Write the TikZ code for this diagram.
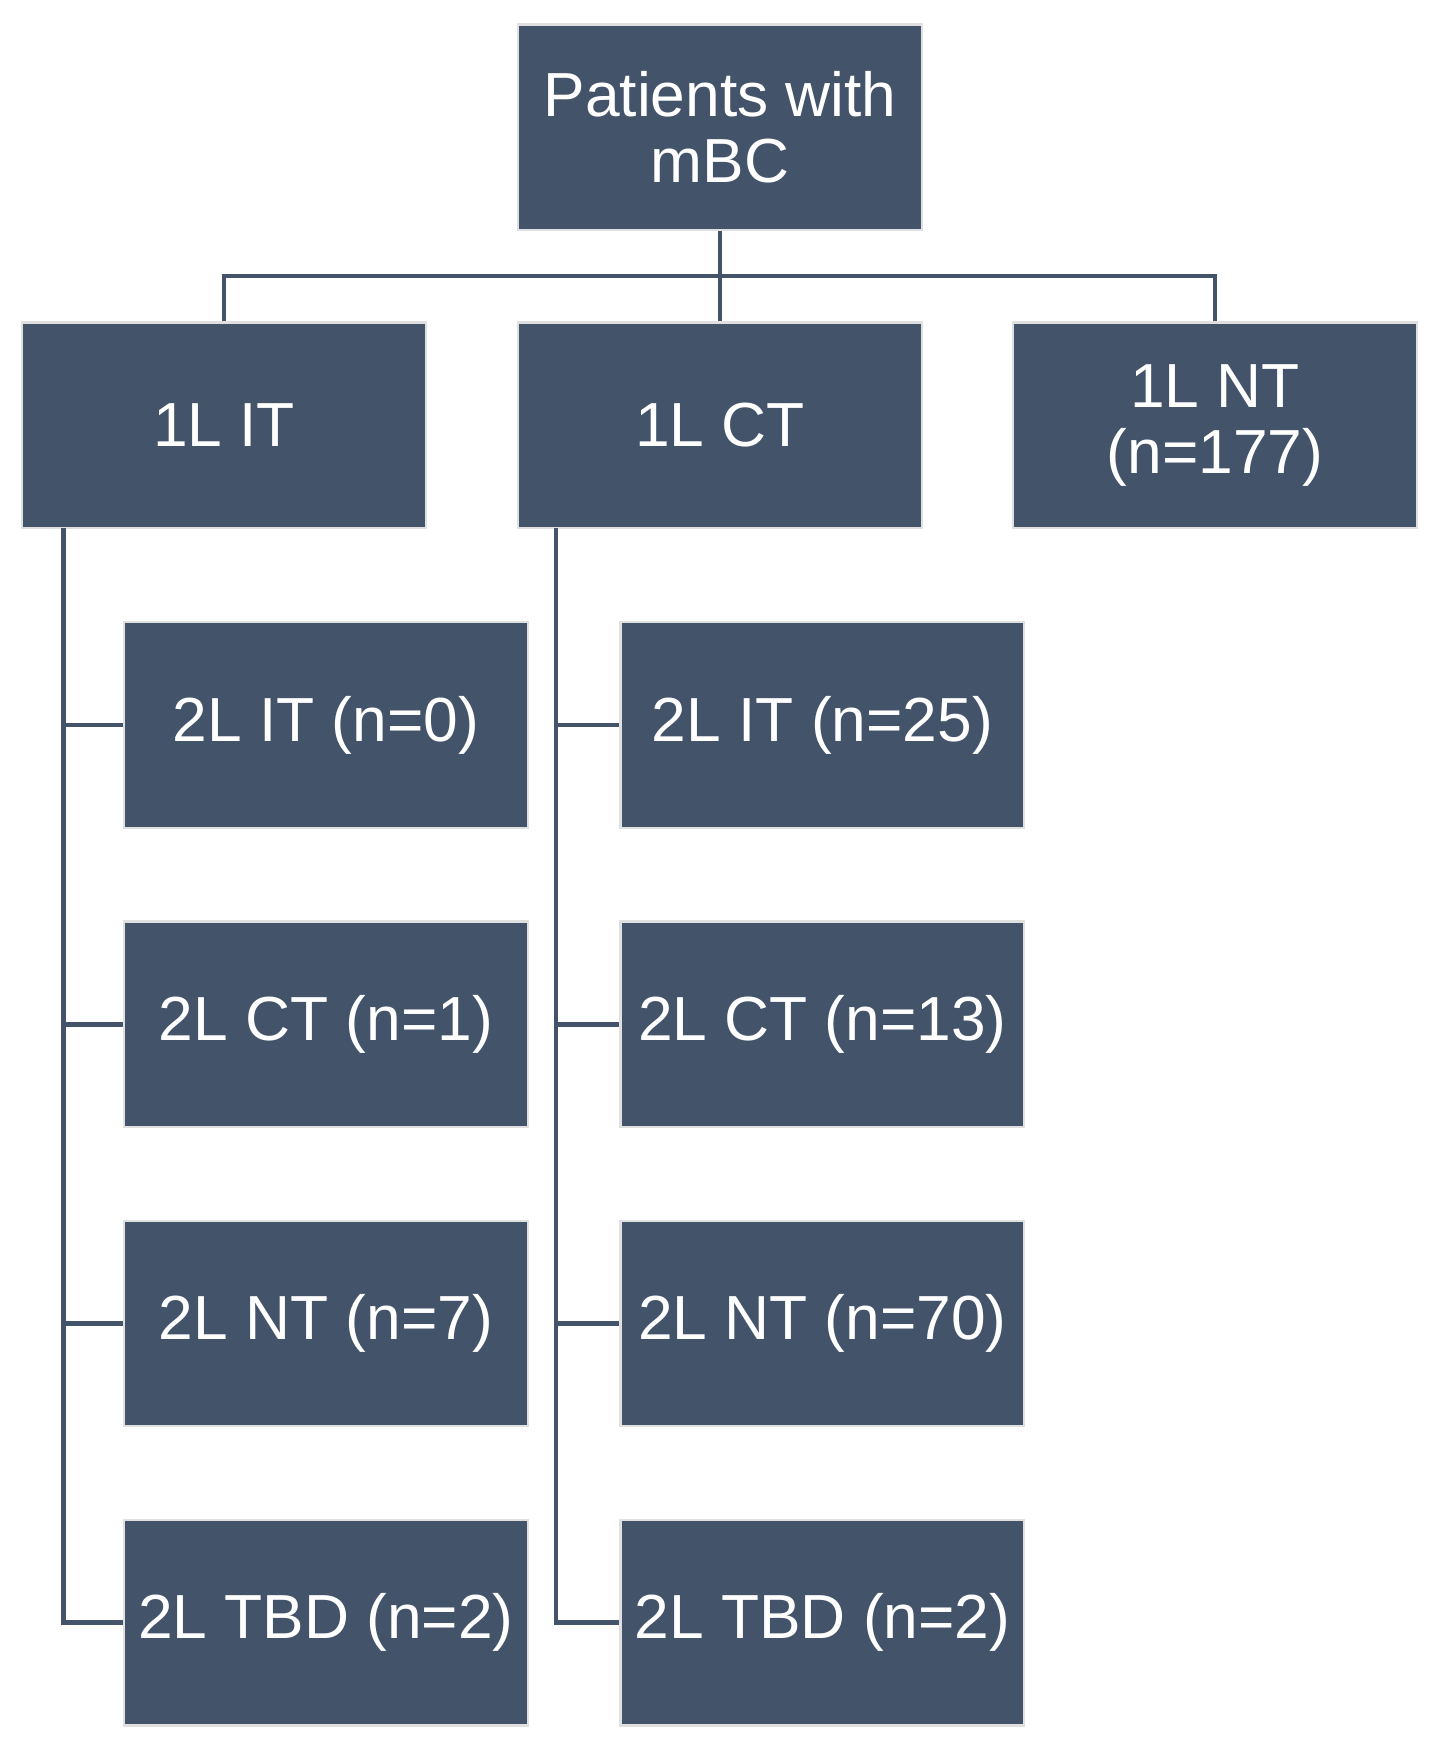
\documentclass[tikz,border=0pt]{standalone}
\usepackage{fontspec}
\setmainfont{Liberation Sans}
\definecolor{boxc}{HTML}{435369}
\begin{document}
\begin{tikzpicture}[x=0.5pt,y=-0.5pt,
  bx/.style={fill=boxc,draw=black!12,line width=1pt,minimum width=181.5pt,minimum height=92.5pt,inner sep=0pt,text=white,font=\fontsize{28}{30}\selectfont,align=center},
  ln/.style={draw=boxc,line width=2pt}]
\useasboundingbox[fill=white] (0,0) rectangle (1300,1578);
\node[bx] (top) at (647.5,114.5) {Patients with\\mBC};
\node[bx] (it) at (201.5,382.5) {1L IT};
\node[bx] (ct) at (647.5,382.5) {1L CT};
\node[bx] (nt) at (1092.5,382.5) {1L NT\\(n=177)};
\foreach \i/\y/\a/\b in {1/652/2L IT (n=0)/2L IT (n=25),2/921/2L CT (n=1)/2L CT (n=13),3/1190/2L NT (n=7)/2L NT (n=70),4/1459/2L TBD (n=2)/2L TBD (n=2)}{
  \node[bx] (l\i) at (293,\y) {\a};
  \node[bx] (r\i) at (739.5,\y) {\b};
}
\coordinate (h) at (647.5,248);
\draw[ln] (top.south) -- (h);
\draw[ln] (it.north) -- (it.north |- h) -- (nt.north |- h) -- (nt.north);
\draw[ln] (h) -- (ct.north);
\coordinate (lv) at (57,475);
\coordinate (rv) at (500,475);
\draw[ln] (lv) |- (l4.west);
\draw[ln] (rv) |- (r4.west);
\foreach \i in {1,2,3}{
  \draw[ln] (lv |- l\i.west) -- (l\i.west);
  \draw[ln] (rv |- r\i.west) -- (r\i.west);
}
\end{tikzpicture}
\end{document}
